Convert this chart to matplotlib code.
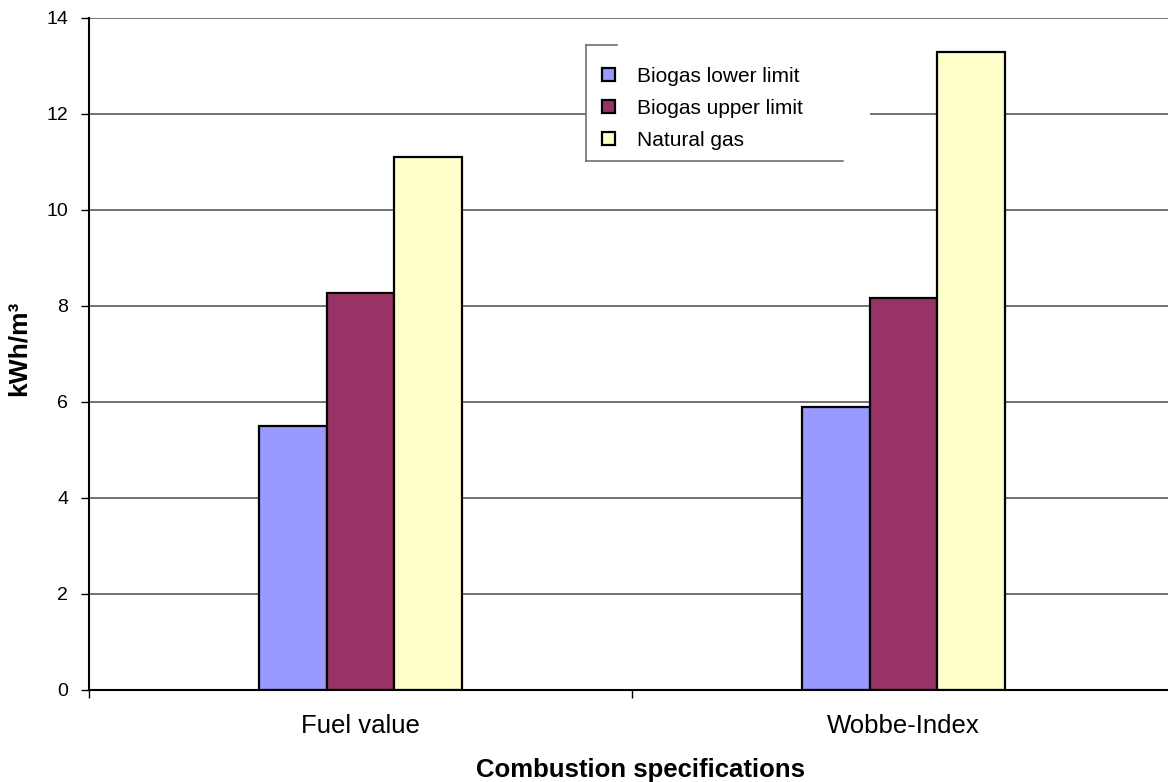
import matplotlib
matplotlib.use("Agg")
import matplotlib.pyplot as plt
import numpy as np
from matplotlib.patches import Patch, Rectangle
from matplotlib.lines import Line2D

plt.rcParams['font.family'] = ['Liberation Sans', 'DejaVu Sans']

# Data
categories = ["Fuel value", "Wobbe-Index"]
series_names = ["Biogas lower limit", "Biogas upper limit", "Natural gas"]
biogas_lower = [5.5, 5.9]
biogas_upper = [8.28, 8.16]
natural_gas = [11.1, 13.3]
y_ticks = [0, 2, 4, 6, 8, 10, 12, 14]

colors = ["#9999FF", "#993366", "#FFFFCC"]

W, H = 1168, 782
fig = plt.figure(figsize=(W / 100, H / 100), dpi=100)
ax = fig.add_axes([89 / W, 1 - 690 / H, (1175 - 89) / W, (690 - 18) / H])

x = np.arange(len(categories))
bar_w = 0.125
series = [biogas_lower, biogas_upper, natural_gas]
for i, (vals, name, c) in enumerate(zip(series, series_names, colors)):
    ax.bar(x + (i - 1) * bar_w, vals, width=bar_w, color=c, edgecolor="black",
           linewidth=1.6, label=name, zorder=2)

ax.set_xlim(-0.5, 1.5)
ax.set_ylim(0, 14)
ax.set_yticks(y_ticks)
ax.set_yticklabels([str(t) for t in y_ticks], fontsize=14)
ax.yaxis.grid(True, color="#5a5a5a", linewidth=1.2, zorder=0)
ax.set_axisbelow(True)

# Category boundary ticks and centered category labels
ax.set_xticks([-0.5, 0.5, 1.5])
ax.set_xticklabels(["", "", ""])
ax.set_xticks(x, minor=True)
ax.set_xticklabels(categories, minor=True, fontsize=18.5)
ax.tick_params(axis="x", which="minor", length=0, pad=17)
ax.tick_params(axis="x", which="major", length=6, width=1, direction="out", color="black")
ax.tick_params(axis="y", length=6, width=1, direction="out", pad=9, color="black")

for s in ["top", "right"]:
    ax.spines[s].set_visible(False)
ax.spines["left"].set_linewidth(1.5)
ax.spines["bottom"].set_linewidth(1.5)

fig.text(640 / W, 1 - 777 / H, "Combustion specifications", fontsize=18.5,
         fontweight="bold", ha="center", va="baseline")
fig.text(19 / W, 1 - 348 / H, "kWh/m³", fontsize=19, fontweight="bold",
         rotation=90, ha="center", va="center")

# Legend backdrop with its partial frame
ax.add_patch(Rectangle((586 / W, 1 - 161 / H), (870 - 586) / W, (161 - 45) / H,
                       transform=fig.transFigure, facecolor="white",
                       edgecolor="none", zorder=3))
frame_kw = dict(transform=fig.transFigure, color="#707070", linewidth=1.2,
                zorder=4, clip_on=False)
fig.add_artist(Line2D([586 / W, 586 / W], [1 - 45 / H, 1 - 161 / H], **frame_kw))
fig.add_artist(Line2D([586 / W, 617 / W], [1 - 45 / H, 1 - 45 / H], **frame_kw))
fig.add_artist(Line2D([586 / W, 843 / W], [1 - 161 / H, 1 - 161 / H], **frame_kw))

handles = [Patch(facecolor=c, edgecolor="black", linewidth=1.6) for c in colors]
leg = ax.legend(handles, series_names, loc="upper left",
                bbox_to_anchor=(602 / W, 1 - 67 / H), bbox_transform=fig.transFigure,
                frameon=False, fontsize=15, handlelength=0.6, handleheight=0.6,
                handletextpad=1.1, labelspacing=0.62, borderpad=0, borderaxespad=0)
leg.set_zorder(5)

fig.savefig("out.png", dpi=100)
